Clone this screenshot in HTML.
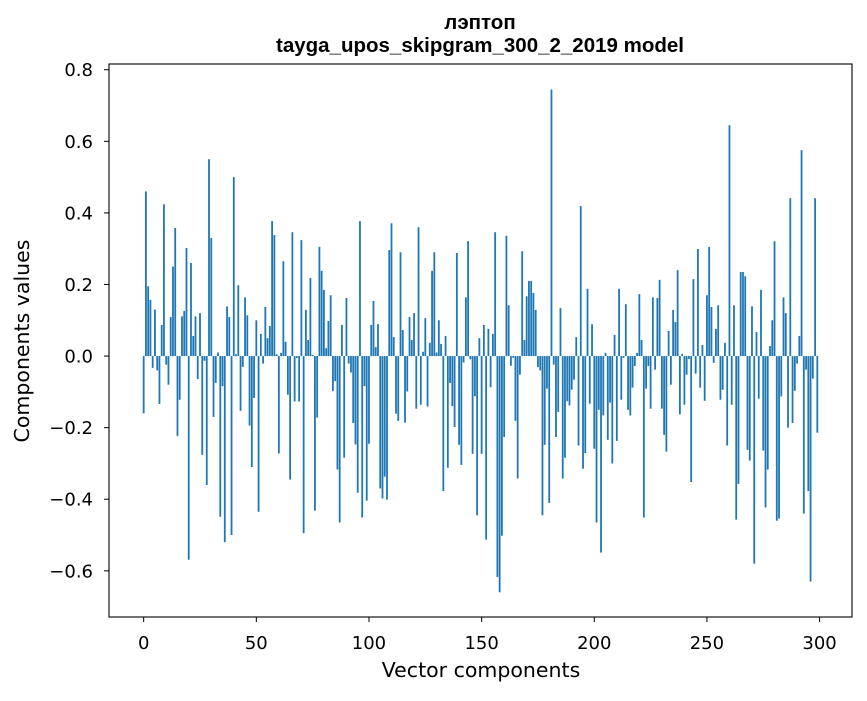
<!DOCTYPE html>
<html><head><meta charset="utf-8"><style>
body{margin:0;background:#fff;}
svg text{font-family:"DejaVu Sans","Liberation Sans",sans-serif;fill:#000;}
svg text.ttl{font-family:"Liberation Sans","DejaVu Sans",sans-serif;}
</style></head><body>
<svg id="chart" width="867" height="696" xmlns="http://www.w3.org/2000/svg">
<rect width="867" height="696" fill="#fff"/>
<text class="ttl" x="480" y="29" text-anchor="middle" font-size="20.5" font-weight="bold">лэптоп</text>
<text class="ttl" x="480" y="52" text-anchor="middle" font-size="20.5" font-weight="bold">tayga_upos_skipgram_300_2_2019 model</text>
<g id="bars"></g>
<g id="axes"></g>
<text x="481" y="677" text-anchor="middle" font-size="20.5">Vector components</text>
<text transform="translate(29,341) rotate(-90)" text-anchor="middle" font-size="20.5">Components values</text>
</svg>
<script>
const values = [
-0.16,0.46,0.195,0.157,-0.033,0.13,-0.04,-0.134,0.087,0.424,
-0.024,-0.08,0.109,0.25,0.358,-0.223,-0.122,0.111,0.126,0.302,
-0.569,0.26,0.056,0.111,-0.064,0.12,-0.276,-0.013,-0.36,0.55,
0.33,-0.17,-0.075,0.01,-0.449,-0.084,-0.52,0.139,0.109,-0.5,
0.5,0.005,0.198,-0.153,-0.03,0.164,0.114,-0.194,-0.31,-0.117,
0.1,-0.435,0.062,-0.021,0.137,0.05,0.084,0.377,0.338,0.005,
-0.272,0.009,0.265,0.04,-0.108,-0.345,0.346,-0.127,-0.005,-0.127,
0.324,-0.495,0.129,0.045,0.218,0.003,-0.432,-0.172,0.305,0.238,
0.185,0.022,0.098,0.17,-0.098,-0.07,-0.317,-0.465,0.087,-0.284,
0.162,-0.021,-0.046,-0.187,-0.247,-0.382,0.377,-0.451,-0.084,-0.404,
-0.245,0.087,0.154,0.025,0.089,-0.37,-0.398,-0.337,-0.401,0.296,
0.371,0.053,-0.161,-0.181,0.29,0.073,-0.186,-0.099,0.109,0.045,
0.12,-0.147,0.36,-0.136,0.012,0.106,-0.141,0.037,0.238,0.29,
0.01,0.1,0.034,-0.377,0.056,-0.312,-0.075,-0.14,-0.198,0.288,
-0.248,-0.304,-0.018,0.164,0.321,-0.009,-0.273,-0.112,-0.445,0.05,
-0.273,0.087,-0.513,0.076,-0.087,0.062,0.346,-0.617,-0.66,-0.502,
-0.226,0.336,0.142,-0.027,-0.005,-0.181,-0.342,-0.052,0.293,0.045,
0.167,0.21,0.21,0.176,0.129,-0.031,-0.04,-0.445,-0.248,-0.091,
-0.41,0.745,-0.024,-0.226,-0.156,0.134,-0.342,-0.284,-0.126,-0.138,
-0.094,-0.066,0.053,-0.25,0.419,-0.315,-0.271,0.188,-0.133,0.089,
-0.259,-0.465,-0.15,-0.549,-0.166,0.009,-0.234,-0.13,-0.3,0.059,
-0.237,0.188,-0.122,-0.005,0.145,-0.15,-0.166,-0.088,-0.028,0.009,
0.173,0.045,-0.451,-0.091,-0.028,-0.147,0.164,-0.038,0.162,0.213,
-0.147,-0.22,-0.267,0.07,-0.08,0.129,0.095,0.24,-0.163,0.006,
-0.136,-0.052,-0.008,-0.352,0.215,-0.049,0.299,-0.088,0.031,-0.125,
0.17,0.305,0.137,-0.019,0.076,0.142,-0.122,-0.094,0.037,-0.25,
0.645,-0.136,0.142,-0.457,-0.357,0.235,0.235,0.223,-0.262,-0.292,
0.139,-0.58,0.067,-0.119,0.185,-0.264,-0.423,-0.317,0.028,0.1,
0.321,-0.46,-0.454,-0.113,0.164,0.12,-0.2,0.441,-0.187,-0.097,
-0.021,0.056,0.575,-0.44,-0.038,-0.377,-0.63,-0.063,0.441,-0.214
];
const xTicks = [0,50,100,150,200,250,300];
const yTicks = [-0.6,-0.4,-0.2,0.0,0.2,0.4,0.6,0.8];
const yTickLabels = ["\u22120.6","\u22120.4","\u22120.2","0.0","0.2","0.4","0.6","0.8"];

const L=109,R=852,T=64,B=617;
const xMin=-15.39,xMax=314.39,yMin=-0.729,yMax=0.816;
function xs(v){return L+(v-xMin)/(xMax-xMin)*(R-L);}
function ys(v){return B-(v-yMin)/(yMax-yMin)*(B-T);}
const NS="http://www.w3.org/2000/svg";
const bars=document.getElementById('bars');
values.forEach((v,i)=>{
  const r=document.createElementNS(NS,'rect');
  const x0=xs(i-0.4),x1=xs(i+0.4);
  const y0=ys(0),y1=ys(v);
  r.setAttribute('x',x0);r.setAttribute('width',x1-x0);
  r.setAttribute('y',Math.min(y0,y1));r.setAttribute('height',Math.abs(y1-y0));
  r.setAttribute('fill','#1f77b4');
  
  
  bars.appendChild(r);
});
const axes=document.getElementById('axes');
const frame=document.createElementNS(NS,'rect');
frame.setAttribute('x',L);frame.setAttribute('y',T);frame.setAttribute('width',R-L);frame.setAttribute('height',B-T);
frame.setAttribute('fill','none');frame.setAttribute('stroke','#000');frame.setAttribute('stroke-width','1.1');


axes.appendChild(frame);
xTicks.forEach(t=>{
  const x=xs(t);
  const l=document.createElementNS(NS,'line');
  l.setAttribute('x1',x);l.setAttribute('x2',x);l.setAttribute('y1',B);l.setAttribute('y2',B+5);l.setAttribute('stroke','#000');
  
  
  axes.appendChild(l);
  const tx=document.createElementNS(NS,'text');
  tx.setAttribute('x',x);tx.setAttribute('y',B+32);tx.setAttribute('text-anchor','middle');tx.setAttribute('font-size','18');
  tx.textContent=t;
  
  
  axes.appendChild(tx);
});
yTicks.forEach((t,i)=>{
  const y=ys(t);
  const l=document.createElementNS(NS,'line');
  l.setAttribute('x1',L-5);l.setAttribute('x2',L);l.setAttribute('y1',y);l.setAttribute('y2',y);l.setAttribute('stroke','#000');
  
  
  axes.appendChild(l);
  const tx=document.createElementNS(NS,'text');
  tx.setAttribute('x',L-16);tx.setAttribute('y',y+6.5);tx.setAttribute('text-anchor','end');tx.setAttribute('font-size','18');
  tx.textContent=yTickLabels[i];
  
  
  axes.appendChild(tx);
});
</script>
</body></html>
